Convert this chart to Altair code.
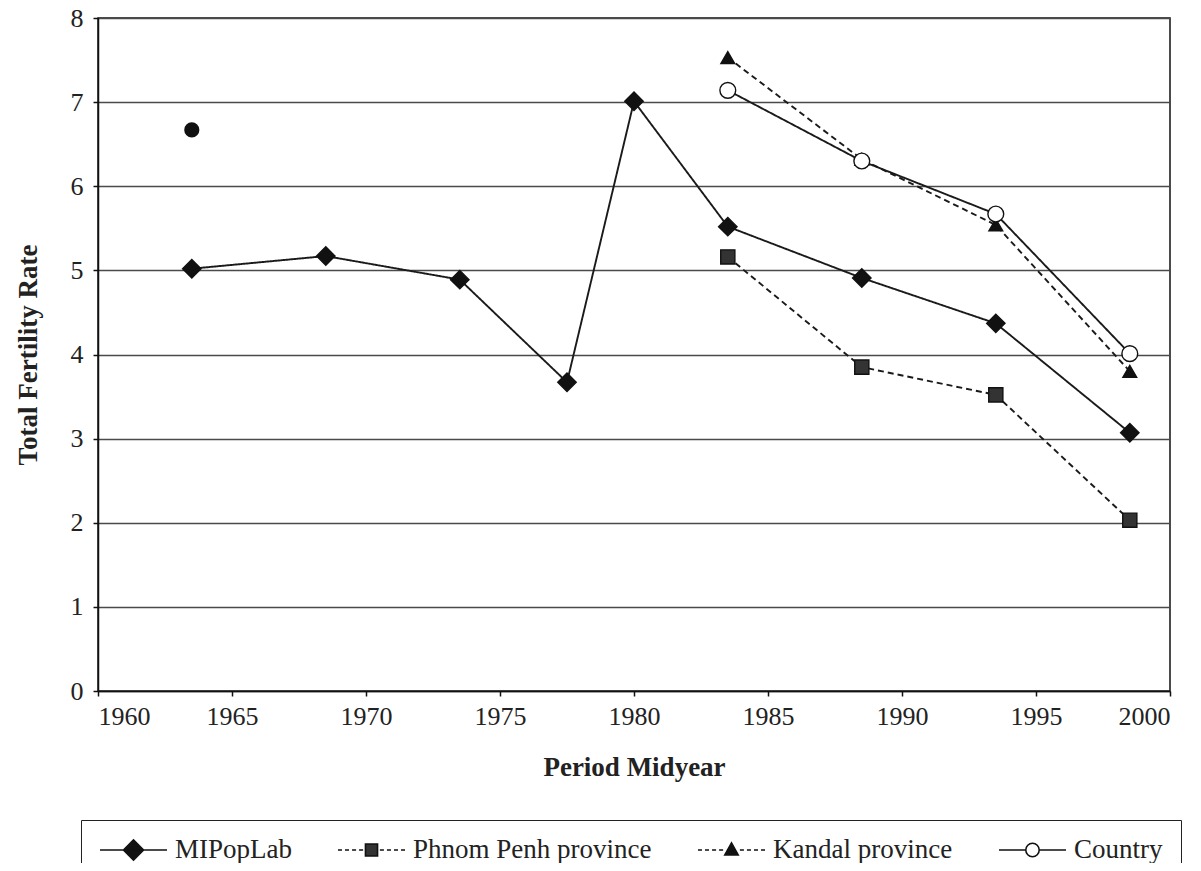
import altair as alt
import pandas as pd

# ---------------- data ----------------
series_names = ["MIPopLab", "Phnom Penh province", "Kandal province", "Country"]

mip_years = [1963.5, 1968.5, 1973.5, 1977.5, 1980, 1983.5, 1988.5, 1993.5, 1998.5]
mip_tfr = [5.02, 5.17, 4.89, 3.67, 7.01, 5.52, 4.91, 4.37, 3.07]

pp_years = [1983.5, 1988.5, 1993.5, 1998.5]
pp_tfr = [5.16, 3.85, 3.52, 2.03]

kandal_years = [1983.5, 1988.5, 1993.5, 1998.5]
kandal_tfr = [7.53, 6.32, 5.54, 3.80]

country_years = [1983.5, 1988.5, 1993.5, 1998.5]
country_tfr = [7.14, 6.30, 5.67, 4.01]

dot_years = [1963.5]
dot_tfr = [6.67]

x_ticks = [1960, 1965, 1970, 1975, 1980, 1985, 1990, 1995, 2000]
y_ticks = [0, 1, 2, 3, 4, 5, 6, 7, 8]

# ---------------- styling ----------------
FONT = "Liberation Serif"
TEXT = "#222222"

series_data = {
    "MIPopLab": (mip_years, mip_tfr),
    "Phnom Penh province": (pp_years, pp_tfr),
    "Kandal province": (kandal_years, kandal_tfr),
    "Country": (country_years, country_tfr),
}
line_dash = {"MIPopLab": [1, 0], "Phnom Penh province": [6, 4],
             "Kandal province": [6, 4], "Country": [1, 0]}
point_style = {
    "MIPopLab": dict(shape="diamond", size=340, fill="#111111"),
    "Phnom Penh province": dict(shape="square", size=200, fill="#333333"),
    "Kandal province": dict(shape="triangle-up", size=190, fill="#111111"),
    "Country": dict(shape="circle", size=250, fill="white"),
}

x_enc = alt.X(
    "year:Q",
    scale=alt.Scale(domain=[1960, 2000], nice=False, zero=False),
    axis=alt.Axis(values=x_ticks, format="d", title="Period Midyear", grid=False,
                  labelPadding=7, titleX=536, titleY=84, titleBaseline="alphabetic",
                  titleAlign="center"),
)
y_enc = alt.Y(
    "tfr:Q",
    scale=alt.Scale(domain=[0, 8], nice=False),
    axis=alt.Axis(values=y_ticks, title="Total Fertility Rate", grid=True,
                  labelPadding=10, titleX=-62, titleY=336.5, titleBaseline="alphabetic",
                  titleAlign="center", titleAngle=-90),
)

layers = []
for name in series_names:
    yrs, vals = series_data[name]
    df = pd.DataFrame({"year": yrs, "tfr": vals, "series": name})
    layers.append(
        alt.Chart(df).mark_line(color="#1a1a1a", strokeWidth=1.9,
                                strokeDash=line_dash[name]).encode(x=x_enc, y=y_enc)
    )
for name in series_names:
    yrs, vals = series_data[name]
    df = pd.DataFrame({"year": yrs, "tfr": vals, "series": name})
    st = point_style[name]
    layers.append(
        alt.Chart(df).mark_point(shape=st["shape"], size=st["size"], filled=True,
                                 fill=st["fill"], stroke="#111111", strokeWidth=1.4,
                                 opacity=1).encode(x=x_enc, y=y_enc)
    )

dot_df = pd.DataFrame({"year": dot_years, "tfr": dot_tfr})
layers.append(
    alt.Chart(dot_df).mark_point(shape="circle", size=230, filled=True, fill="#111111",
                                 opacity=1).encode(x=x_enc, y=y_enc)
)

# legend symbols (unit-box SVG paths: a line with a marker in the middle)
dashes = "".join(
    f"M{a},0H{b}" for a, b in [(-1, -0.88), (-0.79, -0.67), (-0.58, -0.46), (-0.37, -0.25),
                               (0.25, 0.37), (0.46, 0.58), (0.67, 0.79), (0.88, 1)]
)
legend_paths = [
    "M-1,0H1M-0.3,0L0,-0.3L0.3,0L0,0.3Z",
    dashes + "M-0.18,-0.18H0.18V0.18H-0.18Z",
    dashes + "M0,-0.21L0.2,0.15H-0.2Z",
    "M-1,0H-0.2M0.2,0H1M0.2,0A0.2,0.2,0,1,1,-0.2,0A0.2,0.2,0,1,1,0.2,0Z",
]
legend_df = pd.DataFrame({"entry": series_names})
legend_layer = alt.Chart(legend_df).mark_point(
    filled=True, strokeWidth=1.6, opacity=1
).encode(
    shape=alt.Shape(
        "entry:N",
        scale=alt.Scale(domain=series_names, range=legend_paths),
        legend=alt.Legend(
            title=None, orient="none", legendX=-17, legendY=802,
            direction="horizontal", columns=4, columnPadding=45,
            labelFont=FONT, labelFontSize=27, labelColor=TEXT, labelOffset=7,
            labelLimit=400, symbolSize=4500, clipHeight=24, padding=18,
            strokeColor="#222222", symbolStrokeWidth=1.6,
        ),
    ),
    fill=alt.Fill("entry:N", scale=alt.Scale(domain=series_names,
                                             range=["#111111", "#333333", "#111111", "white"])),
    stroke=alt.Stroke("entry:N", scale=alt.Scale(domain=series_names,
                                                 range=["#111111", "#111111", "#111111", "#111111"])),
).transform_filter("false")
layers.append(legend_layer)

chart = alt.layer(*layers).properties(
    width=1072, height=673,
    autosize=alt.AutoSizeParams(type="none"),
    padding={"left": 90, "top": 10, "right": 23, "bottom": 172},
).configure_view(
    stroke="#111111", strokeWidth=1.5
).configure_axis(
    domainColor="#111111", domainWidth=1.5, tickColor="#111111", tickWidth=1.5,
    tickSize=5, gridColor="#4a4a4a", gridWidth=1.6,
    labelFont=FONT, labelFontSize=26, labelColor=TEXT,
    titleFont=FONT, titleFontSize=27, titleFontWeight="bold", titleColor=TEXT,
)

chart.save("out.html", embed_options={"renderer": "svg", "actions": False})
